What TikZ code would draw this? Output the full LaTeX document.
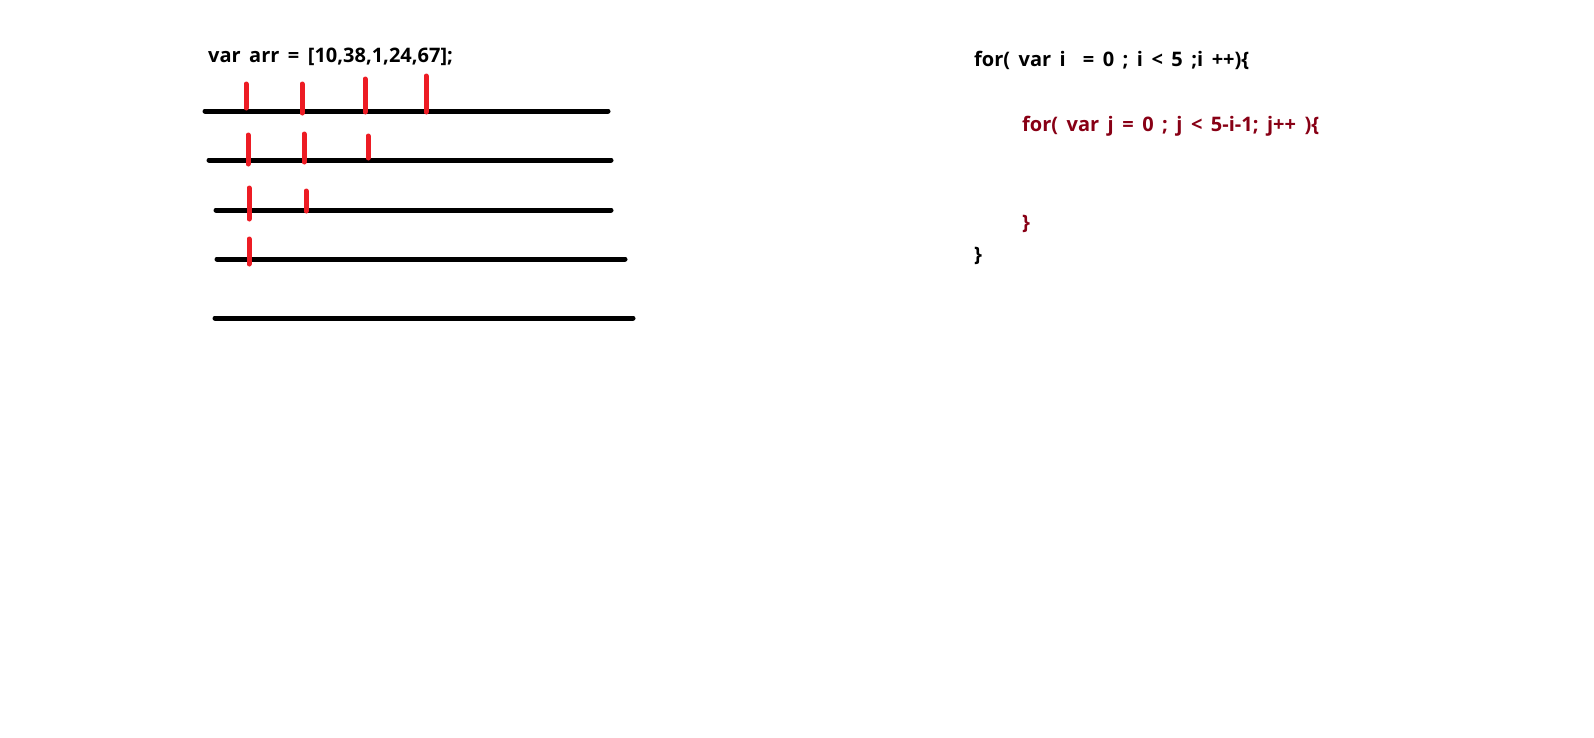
\documentclass[tikz,border=0pt]{standalone}
\usepackage{fontspec}
\setmainfont{Open Sans}
\definecolor{paintred}{HTML}{ED1C24}
\definecolor{darkred}{HTML}{880015}
\newcommand{\codefont}{\fontsize{20}{24}\selectfont\bfseries\spaceskip=8.5pt\relax}

\begin{document}
\begin{tikzpicture}[x=1pt,y=-1pt,
    code_text/.style={anchor=base west,inner sep=0pt,font=\codefont},
    bar/.style={line width=5pt,line cap=round},
    tick_mark/.style={line width=5pt,line cap=round,paintred}]
    \useasboundingbox (0,0) rectangle (1594,737);

    \node[code_text] (arr) at (208,62) {var arr = [10,38,1,24,67];};

    \draw[bar] (205,111) -- (608,111);
    \draw[bar] (209,160) -- (611,160);
    \draw[bar] (216,210) -- (611,210);
    \draw[bar] (217,259) -- (625,259);
    \draw[bar] (215,318) -- (633,318);

    \draw[tick_mark] (246,84) -- (246,108);
    \draw[tick_mark] (302,84) -- (302,113);
    \draw[tick_mark] (365,79) -- (365,112);
    \draw[tick_mark] (426,76) -- (426,112);
    \draw[tick_mark] (248,135) -- (248,164);
    \draw[tick_mark] (304,134) -- (304,162);
    \draw[tick_mark] (368,136) -- (368,158);
    \draw[tick_mark] (249,188) -- (249,219);
    \draw[tick_mark] (306,191) -- (306,211);
    \draw[tick_mark] (249,239) -- (249,264);

    \node[code_text] (outer) at (974,66) {for( var i\ \ = 0 ; i < 5 ;i ++)\{};
    \node[code_text,darkred] (inner) at (1022,131) {for( var j = 0 ; j < 5-i-1; j++ )\{};
    \node[code_text,darkred] (inner_end) at (1022,229) {\}};
    \node[code_text] (outer_end) at (974,261) {\}};
\end{tikzpicture}
\end{document}
